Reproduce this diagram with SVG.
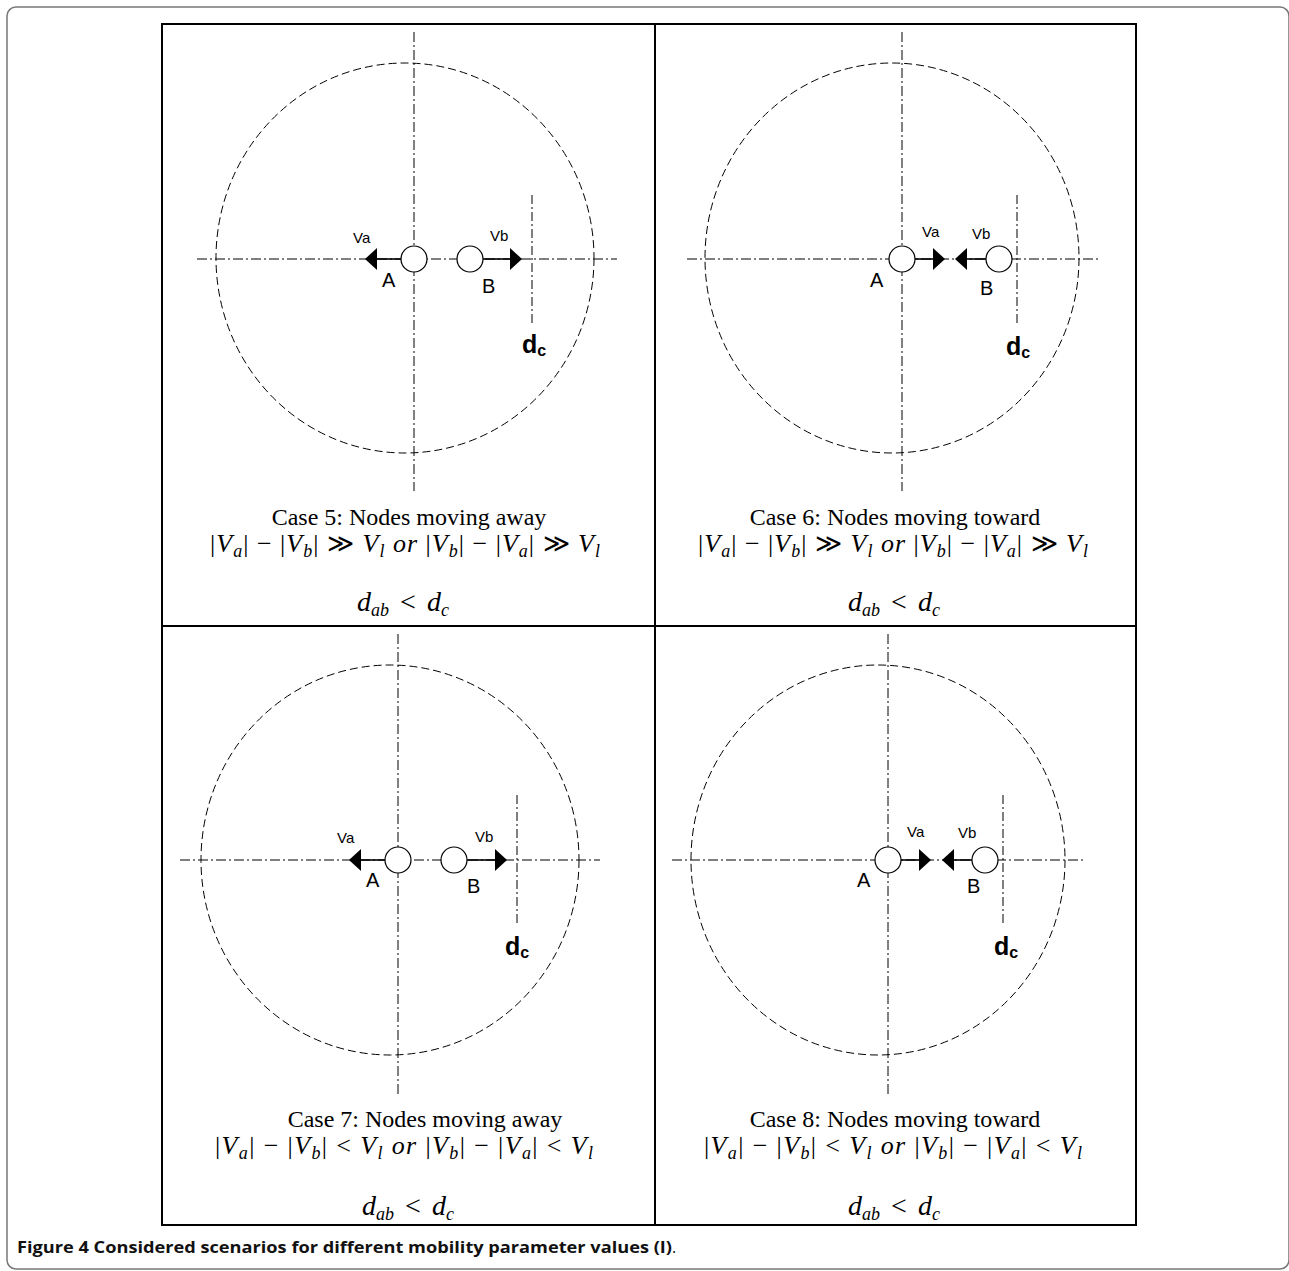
<svg xmlns="http://www.w3.org/2000/svg" width="1289" height="1271" viewBox="0 0 1289 1271">
<style>
.axis{stroke:#000;stroke-width:1;fill:none;stroke-dasharray:10 3 2 3}
.range{stroke:#000;stroke-width:1;fill:none;stroke-dasharray:8 4}
.dcl{stroke:#000;stroke-width:1;fill:none;stroke-dasharray:9 3 2 3}
.node{fill:#fff;stroke:#000;stroke-width:1.2}
.vel{stroke:#000;stroke-width:1.6;fill:none}
.lbl{font-family:"Liberation Sans",Arial,sans-serif;fill:#000}
.vl{font-size:15px}
.nl{font-size:20px}
.dc{font-size:25px;font-weight:bold}
.dcs{font-size:16px;font-weight:bold}
.title{font-family:"Liberation Serif","Times New Roman",serif;font-size:24px;fill:#000}
.math{font-family:"Liberation Serif","DejaVu Serif",serif;font-size:26px;fill:#000}
.dab{font-family:"Liberation Serif","DejaVu Serif",serif;font-size:28px;fill:#000}
.i{font-style:italic}
.s{font-style:italic;font-size:18px}
.grid{stroke:#000;stroke-width:2;fill:none}
.cap{font-family:"Open Sans","Liberation Sans",sans-serif;font-size:16px;fill:#111}
</style>
<defs>
<marker id="ah" viewBox="0 0 12 22" refX="0" refY="11" markerWidth="12" markerHeight="22" markerUnits="userSpaceOnUse" orient="auto">
<path d="M0,0 L12,11 L0,22 z" fill="#000"/>
</marker>
</defs>
<rect id="frame" x="7" y="7" width="1282" height="1262" rx="9" fill="#fff" stroke="#777" stroke-width="1.5"/>
<g id="table">
<rect class="grid" x="162" y="24" width="974" height="1201"/>
<line class="grid" x1="655" y1="24" x2="655" y2="1225"/>
<line class="grid" x1="162" y1="626" x2="1136" y2="626"/>
</g>

<!-- Panel 1 -->
<g id="panel5">
<ellipse class="range" cx="405" cy="258" rx="189" ry="195"/>
<line class="axis" x1="414" y1="32" x2="414" y2="491"/>
<line class="axis" x1="197" y1="259" x2="617" y2="259"/>
<line class="dcl" x1="532" y1="195" x2="532" y2="325"/>
<g id="p5-connectors">
<line class="vel" x1="401" y1="259" x2="377" y2="259" marker-end="url(#ah)"/>
<line class="vel" x1="483" y1="259" x2="510" y2="259" marker-end="url(#ah)"/>
</g>
<g id="p5-nodeA"><circle class="node" cx="414" cy="259" r="13"/><text class="lbl nl" x="382" y="287">A</text><text class="lbl vl" x="353" y="243">Va</text></g>
<g id="p5-nodeB"><circle class="node" cx="470" cy="259" r="13"/><text class="lbl nl" x="482" y="293">B</text><text class="lbl vl" x="490" y="241">Vb</text></g>
<text class="lbl dc" x="522" y="353">d<tspan class="dcs" dy="3">c</tspan></text>
<text class="title" x="409" y="525" text-anchor="middle">Case 5: Nodes moving away</text>
<text class="math" x="405" y="552" text-anchor="middle" textLength="390" lengthAdjust="spacing">|<tspan class="i">V</tspan><tspan class="s" dy="5">a</tspan><tspan dy="-5">| − |</tspan><tspan class="i">V</tspan><tspan class="s" dy="5">b</tspan><tspan dy="-5">| ≫ </tspan><tspan class="i">V</tspan><tspan class="s" dy="5">l</tspan><tspan class="i" dy="-5"> or </tspan>|<tspan class="i">V</tspan><tspan class="s" dy="5">b</tspan><tspan dy="-5">| − |</tspan><tspan class="i">V</tspan><tspan class="s" dy="5">a</tspan><tspan dy="-5">| ≫ </tspan><tspan class="i">V</tspan><tspan class="s" dy="5">l</tspan></text>
<text class="dab" x="403" y="611" text-anchor="middle"><tspan class="i">d</tspan><tspan class="s" dy="5">ab</tspan><tspan dy="-5" dx="4"> &lt; </tspan><tspan class="i" dx="4">d</tspan><tspan class="s" dy="5">c</tspan></text>
</g>

<!-- Panel 2 -->
<g id="panel6">
<ellipse class="range" cx="892" cy="258" rx="187" ry="195"/>
<line class="axis" x1="902" y1="32" x2="902" y2="491"/>
<line class="axis" x1="687" y1="259" x2="1100" y2="259"/>
<line class="dcl" x1="1017" y1="195" x2="1017" y2="325"/>
<g id="p6-connectors">
<line class="vel" x1="915" y1="259" x2="933" y2="259" marker-end="url(#ah)"/>
<line class="vel" x1="986" y1="259" x2="967" y2="259" marker-end="url(#ah)"/>
</g>
<g id="p6-nodeA"><circle class="node" cx="902" cy="259" r="13"/><text class="lbl nl" x="870" y="287">A</text><text class="lbl vl" x="922" y="237">Va</text></g>
<g id="p6-nodeB"><circle class="node" cx="999" cy="259" r="13"/><text class="lbl nl" x="980" y="295">B</text><text class="lbl vl" x="972" y="239">Vb</text></g>
<text class="lbl dc" x="1006" y="355">d<tspan class="dcs" dy="3">c</tspan></text>
<text class="title" x="895" y="525" text-anchor="middle">Case 6: Nodes moving toward</text>
<text class="math" x="893" y="552" text-anchor="middle" textLength="390" lengthAdjust="spacing">|<tspan class="i">V</tspan><tspan class="s" dy="5">a</tspan><tspan dy="-5">| − |</tspan><tspan class="i">V</tspan><tspan class="s" dy="5">b</tspan><tspan dy="-5">| ≫ </tspan><tspan class="i">V</tspan><tspan class="s" dy="5">l</tspan><tspan class="i" dy="-5"> or </tspan>|<tspan class="i">V</tspan><tspan class="s" dy="5">b</tspan><tspan dy="-5">| − |</tspan><tspan class="i">V</tspan><tspan class="s" dy="5">a</tspan><tspan dy="-5">| ≫ </tspan><tspan class="i">V</tspan><tspan class="s" dy="5">l</tspan></text>
<text class="dab" x="894" y="611" text-anchor="middle"><tspan class="i">d</tspan><tspan class="s" dy="5">ab</tspan><tspan dy="-5" dx="4"> &lt; </tspan><tspan class="i" dx="4">d</tspan><tspan class="s" dy="5">c</tspan></text>
</g>

<!-- Panel 3 -->
<g id="panel7">
<ellipse class="range" cx="390" cy="860" rx="189" ry="195"/>
<line class="axis" x1="398" y1="634" x2="398" y2="1095"/>
<line class="axis" x1="180" y1="860" x2="600" y2="860"/>
<line class="dcl" x1="517" y1="795" x2="517" y2="925"/>
<g id="p7-connectors">
<line class="vel" x1="385" y1="860" x2="361" y2="860" marker-end="url(#ah)"/>
<line class="vel" x1="467" y1="860" x2="495" y2="860" marker-end="url(#ah)"/>
</g>
<g id="p7-nodeA"><circle class="node" cx="398" cy="860" r="13"/><text class="lbl nl" x="366" y="887">A</text><text class="lbl vl" x="337" y="843">Va</text></g>
<g id="p7-nodeB"><circle class="node" cx="454" cy="860" r="13"/><text class="lbl nl" x="467" y="893">B</text><text class="lbl vl" x="475" y="842">Vb</text></g>
<text class="lbl dc" x="505" y="955">d<tspan class="dcs" dy="3">c</tspan></text>
<text class="title" x="425" y="1127" text-anchor="middle">Case 7: Nodes moving away</text>
<text class="math" x="404" y="1154" text-anchor="middle" textLength="378" lengthAdjust="spacing">|<tspan class="i">V</tspan><tspan class="s" dy="5">a</tspan><tspan dy="-5">| − |</tspan><tspan class="i">V</tspan><tspan class="s" dy="5">b</tspan><tspan dy="-5">| &lt; </tspan><tspan class="i">V</tspan><tspan class="s" dy="5">l</tspan><tspan class="i" dy="-5"> or </tspan>|<tspan class="i">V</tspan><tspan class="s" dy="5">b</tspan><tspan dy="-5">| − |</tspan><tspan class="i">V</tspan><tspan class="s" dy="5">a</tspan><tspan dy="-5">| &lt; </tspan><tspan class="i">V</tspan><tspan class="s" dy="5">l</tspan></text>
<text class="dab" x="408" y="1215" text-anchor="middle"><tspan class="i">d</tspan><tspan class="s" dy="5">ab</tspan><tspan dy="-5" dx="4"> &lt; </tspan><tspan class="i" dx="4">d</tspan><tspan class="s" dy="5">c</tspan></text>
</g>

<!-- Panel 4 -->
<g id="panel8">
<ellipse class="range" cx="878" cy="860" rx="187" ry="195"/>
<line class="axis" x1="888" y1="634" x2="888" y2="1095"/>
<line class="axis" x1="672" y1="860" x2="1085" y2="860"/>
<line class="dcl" x1="1003" y1="795" x2="1003" y2="925"/>
<g id="p8-connectors">
<line class="vel" x1="901" y1="860" x2="919" y2="860" marker-end="url(#ah)"/>
<line class="vel" x1="972" y1="860" x2="954" y2="860" marker-end="url(#ah)"/>
</g>
<g id="p8-nodeA"><circle class="node" cx="888" cy="860" r="13"/><text class="lbl nl" x="857" y="887">A</text><text class="lbl vl" x="907" y="837">Va</text></g>
<g id="p8-nodeB"><circle class="node" cx="985" cy="860" r="13"/><text class="lbl nl" x="967" y="893">B</text><text class="lbl vl" x="958" y="838">Vb</text></g>
<text class="lbl dc" x="994" y="955">d<tspan class="dcs" dy="3">c</tspan></text>
<text class="title" x="895" y="1127" text-anchor="middle">Case 8: Nodes moving toward</text>
<text class="math" x="893" y="1154" text-anchor="middle" textLength="378" lengthAdjust="spacing">|<tspan class="i">V</tspan><tspan class="s" dy="5">a</tspan><tspan dy="-5">| − |</tspan><tspan class="i">V</tspan><tspan class="s" dy="5">b</tspan><tspan dy="-5">| &lt; </tspan><tspan class="i">V</tspan><tspan class="s" dy="5">l</tspan><tspan class="i" dy="-5"> or </tspan>|<tspan class="i">V</tspan><tspan class="s" dy="5">b</tspan><tspan dy="-5">| − |</tspan><tspan class="i">V</tspan><tspan class="s" dy="5">a</tspan><tspan dy="-5">| &lt; </tspan><tspan class="i">V</tspan><tspan class="s" dy="5">l</tspan></text>
<text class="dab" x="894" y="1215" text-anchor="middle"><tspan class="i">d</tspan><tspan class="s" dy="5">ab</tspan><tspan dy="-5" dx="4"> &lt; </tspan><tspan class="i" dx="4">d</tspan><tspan class="s" dy="5">c</tspan></text>
</g>

<g id="caption">
<text class="cap" x="17" y="1253" font-weight="bold" textLength="655" lengthAdjust="spacingAndGlyphs">Figure 4 Considered scenarios for different mobility parameter values (I)</text>
<text class="cap" x="672" y="1253">.</text>
</g>
</svg>
